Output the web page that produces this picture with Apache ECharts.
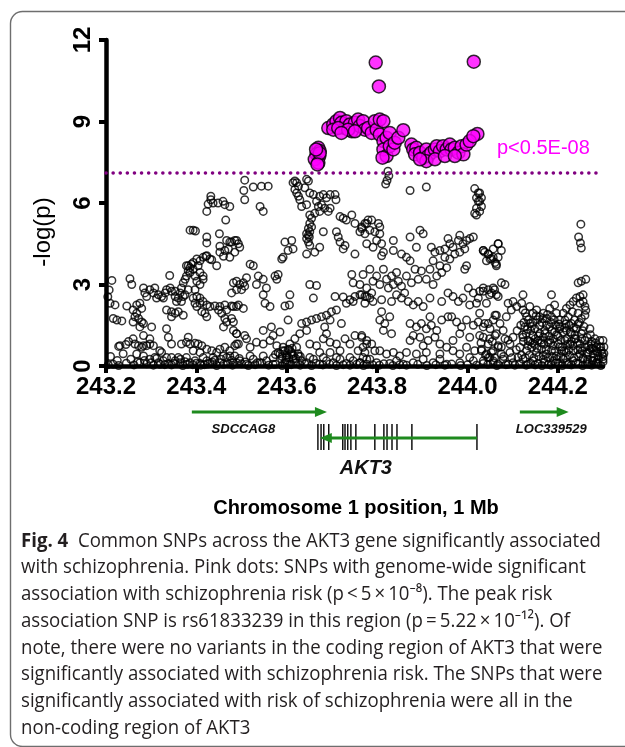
<!DOCTYPE html>
<html>
<head>
<meta charset="utf-8">
<script src="https://cdn.jsdelivr.net/npm/echarts@6/dist/echarts.min.js"></script>
<style>
html,body{margin:0;padding:0;background:#fff;}
#chart{width:625px;height:747px;}
</style>
</head>
<body>
<div id="chart"></div>
<script>
// ---------------- DATA ----------------
const xTicks = [243.2, 243.4, 243.6, 243.8, 244.0, 244.2];
const yTicks = [0, 3, 6, 9, 12];
const thresholdY = 7.1;
const thresholdLabel = 'p<0.5E-08';

// SNPs (position Mb, -log p)
const snpWest = [
[243.213,3.15],[243.253,3.21],[243.257,3.0],[243.341,3.33],
[243.432,6.25],[243.426,5.96],[243.437,6.0],[243.448,6.0],[243.459,6.06],[243.463,5.94],[243.474,5.87],[243.423,5.69],[243.432,6.12],[243.465,5.37],
[243.386,5.0],[243.393,5.0],[243.398,4.97],[243.423,4.75],[243.423,4.53],
[243.451,4.87],[243.467,4.62],[243.478,4.56],[243.489,4.62],
[243.452,4.41],[243.463,4.25],[243.471,4.31],[243.452,4.19],[243.46,4.04],[243.474,4.0],[243.485,4.19],
[243.421,4.04],[243.434,3.91],[243.445,3.69],[243.408,3.87],[243.404,3.69],
[243.367,2.87],[243.371,3.06],[243.375,3.19],[243.378,3.31],[243.382,3.5],[243.386,3.62],[243.389,3.75],[243.393,3.81],[243.401,3.94],[243.415,4.0],[243.423,4.06],[243.43,3.94],[243.382,3.69],[243.393,3.56],[243.378,3.69],[243.386,3.44],[243.397,3.31],[243.401,3.12],[243.408,3.44],[243.415,3.19],[243.364,2.69],[243.371,2.56],[243.36,2.5],[243.353,2.56],[243.356,2.37],[243.367,2.37],[243.375,2.62],[243.382,2.81],[243.397,2.81],[243.408,3.0],[243.415,3.31],
[243.283,2.87],[243.286,2.69],[243.297,2.81],[243.305,2.69],[243.308,2.87],[243.316,2.62],[243.323,2.56],[243.331,2.69],[243.334,2.81],[243.342,2.87],[243.345,2.75],[243.29,2.56],[243.312,2.5],[243.327,2.5],[243.353,2.75],
[243.22,2.25],[243.209,2.31],[243.216,1.75],[243.224,1.69],[243.235,1.66],[243.246,2.21],
[243.26,2.06],[243.268,2.25],[243.275,2.31],[243.279,2.12],[243.264,1.81],[243.272,1.75],[243.279,1.62],[243.26,1.62],[243.275,1.44],[243.283,1.56],[243.268,1.94],
[243.301,1.44],[243.283,1.12],[243.334,1.37],[243.338,1.06],[243.345,0.81],
[243.334,2.06],[243.345,2.0],[243.353,1.94],[243.36,2.0],[243.371,1.87],[243.345,1.81],
[243.393,2.5],[243.401,2.56],[243.408,2.5],[243.415,2.37],[243.423,2.25],[243.43,2.19],[243.441,2.21],[243.452,2.19],[243.463,2.25],[243.478,2.21],[243.489,2.19],[243.408,2.31],[243.401,2.19],[243.397,2.31],
[243.419,1.94],[243.412,2.0],[243.423,1.81],
[243.449,2.06],[243.456,1.94],[243.463,1.75],[243.467,1.62],[243.478,1.75],[243.46,1.44],[243.482,1.31],[243.489,1.19],[243.467,2.06],
[243.231,0.75],[243.244,0.79],[243.26,1.0],[243.264,0.81],[243.272,0.75],[243.279,0.69],[243.283,0.75],[243.29,0.75],[243.297,0.81],[243.305,0.75],[243.297,1.0],[243.319,0.56],[243.323,0.5],[243.268,0.44],[243.283,0.37],[243.297,0.25],[243.308,0.31],[243.334,0.31],[243.345,0.31],
[243.367,0.81],[243.378,0.87],[243.386,0.81],[243.397,0.84],[243.404,0.81],[243.412,0.75],[243.423,0.62],[243.434,0.56],[243.445,0.5],[243.452,0.62],[243.463,0.69],[243.474,0.56],[243.485,0.75],[243.493,0.81],[243.382,1.06],[243.393,0.56],[243.408,0.5],
[243.216,0.06],[243.275,0.12],[243.316,0.12],[243.327,0.19],[243.338,0.09],[243.353,0.19],[243.364,0.12],[243.375,0.16],[243.386,0.12],[243.397,0.19],[243.408,0.09],[243.423,0.19],[243.43,0.12],[243.441,0.21],[243.452,0.12],[243.467,0.31],[243.478,0.21],[243.489,0.12],[243.36,0.31],[243.378,0.31],[243.415,0.31],[243.437,0.31],[243.46,0.37],[243.474,0.37],[243.485,0.37],
[243.204,2.55],[243.207,2.8],[243.228,0.72],[243.25,0.9],
[243.21,0.35],[243.225,0.2],[243.238,0.45],[243.255,0.25],[243.27,0.15],[243.285,0.2],[243.3,0.12],[243.312,0.28],[243.33,0.05],[243.35,0.1],[243.365,0.25],[243.38,0.06],[243.4,0.1],[243.418,0.05],[243.435,0.15],[243.455,0.25],[243.47,0.08],[243.495,0.28],[243.508,0.15],[243.535,0.12]
];

const snpCentreWest = [
[243.507,6.84],[243.505,6.46],[243.507,6.12],[243.526,6.59],[243.544,6.62],[243.559,6.62],[243.541,5.87],[243.548,5.69],
[243.614,6.75],[243.618,6.81],[243.622,6.75],[243.626,6.62],[243.618,6.5],[243.622,6.37],[243.626,6.25],[243.629,6.12],[243.644,6.87],[243.648,6.81],[243.64,6.56],[243.633,5.87],
[243.651,6.37],[243.659,6.31],[243.666,6.06],[243.673,6.25],[243.681,6.31],[243.688,6.19],[243.696,6.31],[243.707,6.31],[243.709,6.12],[243.684,5.81],[243.696,5.81],[243.673,5.69],[243.662,5.62],[243.651,5.56],[243.692,5.69],[243.677,5.94],[243.67,5.87],[243.644,5.94],
[243.655,5.44],[243.651,5.25],[243.648,5.06],[243.651,4.94],[243.648,4.81],[243.644,4.69],[243.648,4.56],[243.651,4.44],[243.644,4.87],[243.655,5.12],[243.65,4.75],
[243.681,4.94],
[243.596,4.56],[243.611,4.62],[243.603,4.25],[243.614,4.31],[243.592,4.0],[243.589,3.94],
[243.673,4.37],[243.662,4.19],[243.644,4.12],
[243.71,4.94],[243.714,4.75],[243.718,4.56],[243.725,4.31],[243.729,4.44],
[243.718,5.5],[243.725,5.44],[243.732,5.37],[243.744,5.56],[243.751,5.25],[243.762,4.94],[243.773,5.25],[243.78,5.37],[243.766,5.12],
[243.751,4.12],
[243.474,4.56],[243.485,4.62],[243.493,4.5],[243.496,4.37],
[243.519,3.75],[243.526,3.69],
[243.482,3.06],[243.489,3.12],[243.496,3.0],[243.504,3.06],[243.507,2.94],[243.5,2.81],[243.511,3.25],[243.489,2.81],[243.478,2.69],
[243.537,3.31],[243.548,3.19],[243.555,2.87],[243.533,3.0],[243.574,3.31],[243.581,3.37],[243.578,3.19],
[243.548,2.62],[243.552,2.31],[243.563,2.19],
[243.607,2.62],[243.596,2.21],[243.606,2.25],
[243.651,3.0],[243.666,2.96],[243.659,2.5],
[243.707,2.56],[243.725,2.54],[243.74,2.44],[243.751,2.56],[243.762,2.62],[243.773,2.56],[243.784,2.5],[243.732,2.31],[243.747,2.37],
[243.744,3.37],[243.747,3.06],[243.762,3.0],
[243.482,2.19],[243.493,2.25],[243.504,2.12],
[243.482,1.62],[243.489,1.19],[243.507,1.12],
[243.548,1.31],[243.566,1.44],[243.57,1.12],[243.585,1.25],
[243.603,1.69],
[243.633,1.56],[243.644,1.62],[243.655,1.69],[243.666,1.75],[243.677,1.81],[243.688,1.87],[243.699,2.0],[243.71,2.06],[243.721,1.56],[243.696,1.69],[243.684,1.44],[243.688,1.19],[243.644,1.31],[243.629,1.19],[243.618,1.0],
[243.489,0.81],[243.511,1.0],[243.519,0.69],[243.533,0.87],[243.548,0.81],[243.563,0.94],[243.578,0.75],[243.592,0.69],[243.607,0.81],[243.622,0.69],[243.651,0.81],[243.666,0.75],[243.681,1.0],[243.696,0.87],[243.71,0.81],[243.729,1.0],[243.74,0.81],[243.751,1.12],[243.766,1.06],[243.777,0.81],[243.718,0.56],[243.696,0.5],[243.673,0.5],[243.758,0.56],[243.773,0.5],
[243.581,0.5],[243.592,0.56],[243.603,0.62],[243.611,0.44],[243.6,0.31],[243.589,0.25],[243.614,0.25],[243.626,0.37],[243.633,0.19],[243.596,0.12],[243.607,0.06],
[243.482,0.12],[243.496,0.19],[243.511,0.06],[243.526,0.25],[243.541,0.12],[243.555,0.19],[243.57,0.06],[243.644,0.12],[243.659,0.25],[243.673,0.06],[243.688,0.19],[243.703,0.12],[243.718,0.25],[243.732,0.09],[243.747,0.19],[243.762,0.12],[243.777,0.25],[243.519,0.37],[243.548,0.37],[243.651,0.31],[243.681,0.31],[243.71,0.31],[243.74,0.31],[243.769,0.31],
[243.585,0.45],[243.59,0.35],[243.595,0.55],[243.6,0.4],[243.605,0.3],[243.61,0.5],[243.615,0.38],[243.62,0.28],[243.605,0.6],[243.598,0.22],[243.625,0.45],[243.57,0.3],[243.575,0.42],[243.63,0.35],[243.612,0.65]
];

const snpCentreEast = [
[243.824,7.17],[243.826,7.0],[243.822,6.83],[243.819,6.7],
[243.873,6.46],[243.909,6.59],
[244.016,6.53],[244.024,6.37],[244.02,6.19],[244.024,6.06],[244.02,5.81],[244.02,5.56],[244.016,5.62],
[243.766,5.06],[243.777,5.25],[243.788,5.37],[243.784,5.0],[243.773,4.87],[243.795,4.94],[243.803,5.25],[243.806,5.12],[243.806,4.87],[243.799,4.62],[243.81,4.5],[243.777,4.5],[243.791,4.37],[243.814,4.19],[243.81,4.06],
[243.836,4.62],[243.873,4.75],[243.895,5.0],[243.887,4.37],[243.836,4.25],[243.854,4.12],[243.865,4.0],[243.902,4.87],
[243.92,4.37],[243.928,4.19],[243.939,4.25],[243.95,4.31],[243.957,4.69],[243.961,4.5],[243.968,4.37],[243.98,4.62],[243.983,4.81],[243.99,4.5],[243.998,4.62],[244.005,4.69],[244.013,4.75],[243.95,4.0],[243.961,3.94],[243.972,4.12],[243.983,4.19],[243.994,4.31],[243.924,3.87],[243.939,3.69],[243.954,3.62],[243.998,3.69],[243.994,3.56],
[244.035,4.25],[244.046,4.12],[244.057,4.31],[244.068,4.5],[244.042,3.87],[244.064,3.75],[244.053,3.96],
[243.769,3.37],[243.784,3.56],[243.799,3.31],[243.814,3.56],[243.821,3.19],[243.832,3.31],[243.843,3.44],[243.847,3.12],[243.836,3.0],[243.806,3.0],[243.791,3.12],[243.777,2.87],[243.825,2.87],[243.854,2.94],
[243.873,3.87],[243.884,3.56],[243.898,3.5],[243.917,3.56],[243.932,3.31],[243.943,3.44],[243.909,3.19],[243.891,3.19],[243.876,3.06],[243.924,3.0],[243.865,3.31],
[243.766,2.62],[243.777,2.56],[243.788,2.69],[243.773,2.31],[243.791,2.37],[243.81,2.44],
[243.843,2.62],[243.854,2.5],[243.869,2.37],[243.88,2.25],[243.891,2.37],[243.902,2.19],[243.861,2.69],[243.832,2.37],[243.917,2.5],
[243.957,2.69],[243.968,2.56],[243.98,2.37],[243.99,2.5],[244.002,2.87],[244.013,2.69],[244.024,2.5],[244.035,2.75],[244.049,2.62],[244.06,2.81],[244.068,2.56],[244.02,2.31],[244.005,2.25],[243.943,2.37],[244.042,2.31],
[243.806,1.69],[243.817,1.56],[243.828,1.81],[243.814,1.31],[243.832,1.19],[243.81,2.0],
[243.873,1.56],[243.887,1.44],[243.898,1.56],[243.909,1.37],[243.92,1.5],[243.932,1.31],[243.943,1.69],[243.88,1.12],[243.895,1.06],[243.913,0.94],[243.928,1.06],[243.939,0.81],[243.873,0.94],[243.902,0.75],[243.917,1.81],
[243.965,1.81],[243.976,1.62],[243.987,1.44],[243.998,1.69],[244.013,1.5],[244.024,1.62],[244.035,1.44],[244.046,1.56],[244.057,1.69],[244.064,1.87],[243.983,1.19],[244.005,1.06],[244.027,1.12],[244.049,1.0],[244.064,1.19],[243.968,0.94],[243.957,1.81],
[243.766,1.12],[243.777,0.94],[243.788,0.81],[243.769,0.69],[243.795,0.56],
[243.806,0.56],[243.821,0.44],[243.836,0.5],[243.85,0.37],[243.865,0.5],
[243.954,0.69],[243.968,0.56],[243.983,0.44],[243.998,0.69],[244.016,0.56],[244.031,0.62],[244.042,0.44],[244.057,0.56],[244.068,0.69],[243.939,0.44],[243.909,0.5],[243.887,0.44],
[243.762,0.12],[243.777,0.06],[243.799,0.12],[243.828,0.09],[243.858,0.06],[243.88,0.12],[243.902,0.25],[243.924,0.12],[243.954,0.06],[243.983,0.12],[244.013,0.19],[244.035,0.09],[244.057,0.19],[243.784,0.25],[243.843,0.19],[243.939,0.25],[244.005,0.31],[244.049,0.31]
];

const snpEast = [
[244.027,6.37],[244.031,6.19],[244.027,6.06],[244.031,5.87],[244.027,5.69],
[244.251,5.22],[244.246,4.75],[244.25,4.53],[244.252,4.34],
[244.035,4.25],[244.046,4.12],[244.057,4.0],[244.068,4.5],[244.075,4.25],[244.061,3.81],[244.05,3.94],[244.068,4.0],[244.038,4.19],[244.064,3.69],
[244.035,2.87],[244.046,2.81],[244.057,2.87],[244.064,2.62],[244.075,3.06],[244.083,3.0],[244.053,2.69],[244.027,2.75],
[244.245,3.06],[244.252,3.12],[244.262,3.19],[244.249,2.56],[244.256,2.62],
[244.09,2.31],[244.101,2.37],[244.109,2.19],[244.12,2.31],[244.097,2.06],[244.086,1.81],[244.123,2.62],
[244.186,2.62],[244.182,2.12],[244.193,2.25],
[244.027,1.94],[244.038,1.56],[244.05,1.37],[244.061,1.87],[244.072,1.56],[244.079,1.31],[244.035,1.06],[244.046,0.81],[244.061,1.12],[244.068,0.75],[244.083,1.0],[244.094,0.81],[244.101,1.06],[244.031,0.56],[244.053,0.5],[244.075,0.44],[244.094,0.5],
[244.123,2.06],[244.131,1.81],[244.138,2.19],[244.145,1.94],[244.153,2.06],[244.16,1.81],[244.168,1.94],[244.175,1.75],[244.186,1.81],[244.197,1.94],[244.204,1.69],[244.127,1.44],[244.138,1.56],[244.149,1.37],[244.16,1.5],[244.171,1.31],[244.182,1.44],[244.193,1.25],[244.204,1.37],[244.123,1.06],[244.134,0.94],[244.145,1.12],[244.156,0.94],[244.168,1.06],[244.179,0.87],[244.19,1.0],[244.201,0.81],[244.116,0.69],[244.131,0.56],[244.142,0.69],[244.153,0.5],[244.164,0.62],[244.175,0.44],[244.186,0.56],[244.197,0.37],[244.208,0.56],
[244.212,1.94],[244.219,2.12],[244.227,2.25],[244.234,2.37],[244.241,2.5],[244.249,2.31],[244.256,2.37],[244.26,2.19],[244.216,1.69],[244.223,1.81],[244.23,1.56],[244.237,1.69],[244.245,1.94],[244.252,1.75],[244.26,1.87],[244.219,1.31],[244.23,1.19],[244.241,1.37],[244.252,1.19],[244.216,0.94],[244.227,0.81],[244.237,1.0],[244.249,0.81],[244.26,0.94],[244.219,0.5],[244.234,0.56],[244.249,0.44],
[244.271,1.37],[244.282,1.0],[244.293,0.94],[244.3,0.94],[244.274,0.81],[244.285,0.69],[244.296,0.56],[244.267,0.5],[244.278,0.44],[244.289,0.37],[244.302,0.46],
[244.123,0.25],[244.145,0.19],[244.168,0.25],[244.19,0.19],[244.212,0.25],[244.234,0.19],[244.256,0.25],[244.278,0.19],[244.3,0.25],[244.134,0.06],[244.156,0.09],[244.179,0.06],[244.201,0.09],[244.223,0.06],[244.245,0.09],[244.267,0.06],[244.289,0.09],
[244.035,0.19],[244.057,0.12],[244.079,0.25],[244.101,0.12],[244.112,0.31],[244.046,0.31],[244.068,0.06],[244.09,0.06],
[244.03,0.85],[244.04,0.4],[244.055,0.9],[244.06,0.3],[244.075,0.7],[244.08,0.35],[244.09,0.95],[244.098,0.3],[244.108,0.6],[244.11,1.3]
];

const snpEastDense = [
[244.125,1.6],[244.13,1.2],[244.135,1.7],[244.14,1.3],[244.145,1.6],[244.15,1.0],[244.155,1.7],[244.16,1.2],[244.165,1.6],[244.17,0.8],[244.175,1.5],[244.18,1.1],[244.185,1.6],[244.19,0.75],[244.195,1.5],[244.2,1.1],[244.205,1.45],[244.21,0.7],[244.215,1.4],[244.22,1.0],[244.225,1.5],[244.23,0.9],[244.235,1.4],[244.24,1.0],[244.245,1.55],[244.25,0.65],[244.255,1.3],[244.26,0.7],[244.265,1.05],[244.27,0.6],[244.275,0.9],[244.28,0.3],[244.285,0.55],[244.29,0.25],[244.295,0.7],[244.3,0.35],
[244.12,0.4],[244.128,0.3],[244.137,0.4],[244.147,0.3],[244.158,0.35],[244.168,0.4],[244.178,0.3],[244.188,0.35],[244.198,0.25],[244.207,0.35],[244.217,0.3],[244.226,0.4],[244.236,0.3],[244.246,0.35],[244.256,0.3],[244.266,0.25],[244.276,0.2],[244.286,0.15],
[244.124,0.9],[244.134,0.75],[244.144,0.85],[244.154,0.65],[244.164,0.85],[244.174,0.6],[244.184,0.85],[244.194,0.55],[244.204,0.7],[244.214,0.55],[244.224,0.6],[244.234,0.75],[244.244,0.6],[244.254,0.55],[244.264,0.45],[244.274,0.65],
[244.118,1.5],[244.122,1.15],[244.128,1.95],[244.133,1.35],[244.138,0.9],[244.142,1.45],[244.148,0.8],[244.152,1.85],[244.157,1.1],[244.162,0.95],[244.167,1.75],[244.172,1.2],[244.177,1.9],[244.182,0.95],[244.187,1.3],[244.192,1.7],[244.197,1.15],[244.202,1.55],[244.207,0.95],[244.212,1.25],[244.218,1.55],[244.222,0.8],[244.228,1.25],[244.232,2.0],[244.238,1.15],[244.243,0.85],[244.248,1.6],[244.253,1.0],[244.258,1.45],[244.262,2.05],[244.268,0.75],[244.272,1.15],[244.278,0.65],[244.283,0.85],[244.288,0.5],[244.292,0.7],[244.298,0.45],[244.302,0.7]
];

const snpBaseline = [
[243.205,0.05],[243.228,0.02],[243.245,0.1],[243.262,0.04],[243.29,0.08],[243.305,0.03],[243.32,0.06],[243.345,0.04],[243.37,0.02],[243.392,0.05],[243.41,0.03],[243.425,0.07],[243.445,0.02],[243.46,0.06],[243.48,0.03],[243.5,0.08],[243.515,0.02],[243.53,0.05],[243.545,0.1],[243.56,0.03],[243.575,0.06],[243.59,0.02],[243.6,0.15],[243.61,0.05],[243.62,0.1],[243.63,0.03],[243.64,0.07],[243.655,0.02],[243.665,0.1],[243.68,0.04],[243.695,0.07],[243.71,0.02],[243.725,0.05],[243.74,0.03],[243.755,0.06],[243.77,0.02],[243.79,0.05],[243.805,0.03],[243.815,0.08],[243.835,0.02],[243.85,0.05],[243.865,0.03],[243.89,0.06],[243.91,0.02],[243.93,0.05],[243.95,0.03],[243.965,0.07],[243.985,0.02],[244.0,0.05],[244.02,0.03],[244.045,0.06],[244.065,0.02],[244.085,0.05],[244.105,0.03],[244.115,0.08],[244.13,0.03],[244.14,0.1],[244.15,0.04],[244.165,0.02],[244.17,0.12],[244.185,0.03],[244.195,0.1],[244.21,0.02],[244.22,0.12],[244.23,0.04],[244.24,0.1],[244.255,0.02],[244.265,0.14],[244.275,0.03],[244.285,0.1],[244.295,0.02],[244.3,0.15]
];

// genome-wide significant SNPs (pink)
const sigSnps = [
[243.797,11.17],[244.014,11.2],[243.804,10.29],[244.022,8.54],
[243.67,8.03],[243.673,7.91],[243.666,7.79],[243.672,7.73],[243.662,7.61],[243.67,7.48],[243.673,7.83],[243.665,7.97],[243.668,7.42],
[243.692,8.76],[243.703,8.89],[243.71,9.01],[243.718,9.13],[243.721,8.95],[243.729,8.76],[243.732,9.01],[243.74,8.89],[243.744,8.64],[243.751,8.95],[243.758,9.07],[243.762,8.83],[243.769,9.01],[243.773,8.7],[243.78,8.76],[243.788,8.58],[243.795,9.01],[243.799,8.7],[243.806,9.07],[243.814,9.01],[243.806,8.52],[243.814,8.28],[243.821,8.4],[243.828,8.58],[243.814,7.97],[243.821,7.73],[243.828,8.09],[243.836,7.97],[243.839,8.22],[243.847,8.4],[243.858,8.68],[243.703,8.7],[243.714,8.76],[243.736,8.7],[243.751,8.64],[243.721,8.58],[243.812,7.67],
[243.876,8.15],[243.88,7.97],[243.887,8.03],[243.884,7.79],[243.895,7.85],[243.902,7.67],[243.909,7.97],[243.913,7.73],[243.92,7.85],[243.928,7.97],[243.932,8.09],[243.939,7.91],[243.946,8.09],[243.954,7.97],[243.961,8.15],[243.965,7.97],[243.972,8.03],[243.98,7.85],[243.987,8.09],[243.991,7.79],[243.998,8.15],[244.005,8.28],[244.013,8.46],[243.909,7.54],[243.895,7.61],[243.928,7.61],[243.95,7.73],[243.972,7.73]
];

// genes
const geneNames = ['SDCCAG8', 'AKT3', 'LOC339529'];
const geneStart = [243.39, 243.671, 244.116];
const geneEnd = [243.689, 244.021, 244.224];
const geneStrand = ['+', '-', '+'];
const akt3Exons = [243.669,243.676,243.682,243.693,243.724,243.729,243.735,243.742,243.753,243.795,243.815,243.822,243.833,243.844,243.877,244.021];

const xAxisTitle = 'Chromosome 1 position, 1 Mb';
const yAxisTitle = '-log(p)';
const captionLines = [
  ['Fig. 4', '  Common SNPs across the AKT3 gene significantly associated'],
  ['', 'with schizophrenia. Pink dots: SNPs with genome-wide significant'],
  ['', 'association with schizophrenia risk (p\u2009<\u20095\u2009\u00d7\u200910\u207b\u2078). The peak risk'],
  ['', 'association SNP is rs61833239 in this region (p\u2009=\u20095.22\u2009\u00d7\u200910\u207b\u00b9\u00b2). Of'],
  ['', 'note, there were no variants in the coding region of AKT3 that were'],
  ['', 'significantly associated with schizophrenia risk. The SNPs that were'],
  ['', 'significantly associated with risk of schizophrenia were all in the'],
  ['', 'non-coding region of AKT3']
];

// ---------------- STYLE / LAYOUT ----------------
const AX_FONT = '"Liberation Sans", Arial, sans-serif';
const CAP_FONT = '"Open Sans", "Noto Sans", sans-serif';
const GREEN = '#1e8a1e';
const geneLayout = {
  SDCCAG8:   {y: 412, labelY: 429, labelDx: -16, font: 'italic bold 13px ' + AX_FONT},
  AKT3:      {y: 438, labelY: 468, labelDx: -32, font: 'italic bold 20px ' + AX_FONT},
  LOC339529: {y: 412, labelY: 429, labelDx: 7,  font: 'italic bold 13px ' + AX_FONT}
};

const chart = echarts.init(document.getElementById('chart'), null, {renderer: 'canvas'});

// caption horizontal fit
const mctx = document.createElement('canvas').getContext('2d');
function tw(font, s) { mctx.font = font; return mctx.measureText(s).width; }
const capW = tw('bold 20px ' + CAP_FONT, captionLines[0][0]) + tw('20px ' + CAP_FONT, captionLines[0][1]);
const capScale = 580 / capW;

const captionGraphics = captionLines.map((ln, i) => ({
  type: 'text',
  x: 21, y: 541 + i * 26.7,
  scaleX: capScale,
  style: {
    text: (ln[0] ? '{b|' + ln[0] + '}' : '') + ln[1],
    fontFamily: CAP_FONT, fontSize: 20, fill: '#231f20',
    verticalAlign: 'middle', align: 'left',
    rich: { b: { fontFamily: CAP_FONT, fontSize: 20, fontWeight: 'bold', fill: '#231f20' } }
  }
}));

const blackSnps = [].concat(snpWest, snpCentreWest, snpCentreEast, snpEast, snpEastDense, snpBaseline);

const option = {
  animation: false,
  grid: [
    {left: 106, top: 40, width: 497, height: 326},
    {left: 106, top: 400, width: 497, height: 60}
  ],
  xAxis: [{
    type: 'value', gridIndex: 0, min: 243.2, max: 244.3,
    axisLine: {show: true, onZero: false, lineStyle: {color: '#000', width: 4.5}},
    axisTick: {show: true, length: 7, customValues: xTicks, lineStyle: {color: '#000', width: 4}},
    axisLabel: {customValues: xTicks, formatter: v => Number(v).toFixed(1), fontFamily: AX_FONT, fontWeight: 'bold', fontSize: 24, color: '#000', margin: 9},
    splitLine: {show: false}
  }, {
    type: 'value', gridIndex: 1, min: 243.2, max: 244.3, show: false
  }],
  yAxis: [{
    type: 'value', gridIndex: 0, min: 0, max: 12, interval: 3,
    axisLine: {show: true, onZero: false, lineStyle: {color: '#000', width: 4.5}},
    axisTick: {show: true, length: 7, lineStyle: {color: '#000', width: 4}},
    axisLabel: {rotate: 90, fontFamily: AX_FONT, fontWeight: 'bold', fontSize: 24, color: '#000', margin: 11},
    splitLine: {show: false}
  }, {
    type: 'value', gridIndex: 1, min: 0, max: 1, show: false
  }],
  series: [{
    type: 'scatter', xAxisIndex: 0, yAxisIndex: 0,
    data: blackSnps, symbol: 'circle', symbolSize: 7.5, clip: false,
    progressive: 0, large: false,
    itemStyle: {color: 'rgba(255,255,255,0)', borderColor: '#000', borderWidth: 1.5},
    silent: true, z: 2
  }, {
    type: 'scatter', xAxisIndex: 0, yAxisIndex: 0,
    data: sigSnps, symbol: 'circle', symbolSize: 13, clip: false,
    itemStyle: {color: '#ff00ff', borderColor: '#000', borderWidth: 1.5},
    silent: true, z: 4,
    markLine: {
      silent: true, symbol: 'none', z: 3,
      data: [{yAxis: thresholdY}],
      label: {show: false},
      lineStyle: {color: '#800080', width: 3.5, type: [0.1, 7], cap: 'round'}
    }
  }, {
    type: 'custom', xAxisIndex: 1, yAxisIndex: 1, clip: false, silent: true,
    data: geneNames.map((n, i) => [geneStart[i], geneEnd[i]]),
    encode: {x: [0, 1]},
    renderItem: function (params, api) {
      const i = params.dataIndex;
      const name = geneNames[i];
      const L = geneLayout[name];
      const x0 = api.coord([geneStart[i], 0])[0];
      const x1 = api.coord([geneEnd[i], 0])[0];
      const y = L.y, head = 12, hw = 5;
      const children = [];
      if (name === 'AKT3') {
        akt3Exons.forEach(e => {
          const ex = api.coord([e, 0])[0];
          children.push({type: 'line', shape: {x1: ex, y1: y - 14, x2: ex, y2: y + 12}, style: {stroke: '#111', lineWidth: 1.5}});
        });
      }
      if (geneStrand[i] === '+') {
        children.push({type: 'line', shape: {x1: x0, y1: y, x2: x1 - head + 1, y2: y}, style: {stroke: GREEN, lineWidth: 3}});
        children.push({type: 'polygon', shape: {points: [[x1, y], [x1 - head, y - hw], [x1 - head, y + hw]]}, style: {fill: GREEN}});
      } else {
        children.push({type: 'line', shape: {x1: x0 + head - 1, y1: y, x2: x1, y2: y}, style: {stroke: GREEN, lineWidth: 3}});
        children.push({type: 'polygon', shape: {points: [[x0 + 1, y], [x0 + 1 + head, y - hw], [x0 + 1 + head, y + hw]]}, style: {fill: GREEN}});
      }
      children.push({type: 'text', style: {text: name, x: (x0 + x1) / 2 + L.labelDx, y: L.labelY, font: L.font, fill: '#111', align: 'center', verticalAlign: 'middle'}});
      return {type: 'group', children: children};
    }
  }],
  graphic: [
    {type: 'rect', shape: {x: 10.5, y: 11.5, width: 700, height: 735, r: 12}, style: {fill: 'none', stroke: '#6e6e6e', lineWidth: 1.4}, z: 0, silent: true},
    {type: 'text', x: 43, y: 232, rotation: Math.PI / 2, style: {text: yAxisTitle, font: '24px ' + AX_FONT, fill: '#000', align: 'center', verticalAlign: 'middle'}},
    {type: 'text', x: 497, y: 148, style: {text: thresholdLabel, font: '20px ' + AX_FONT, fill: '#ff00ff', align: 'left', verticalAlign: 'middle'}},
    {type: 'text', x: 356, y: 508, style: {text: xAxisTitle, font: 'bold 20px ' + AX_FONT, fill: '#000', align: 'center', verticalAlign: 'middle'}}
  ].concat(captionGraphics)
};
chart.setOption(option);
</script>
</body>
</html>
